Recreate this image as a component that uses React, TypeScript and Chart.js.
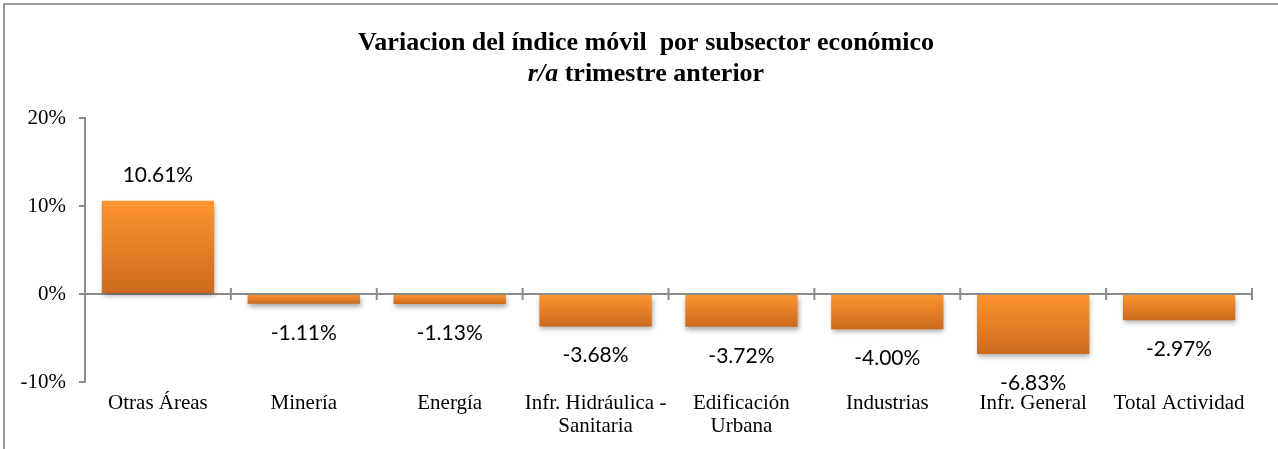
import React, { useEffect, useRef } from "react";
import { Chart, registerables } from "chart.js";

Chart.register(...registerables);

const categories: (string | string[])[] = [
  "Otras Áreas",
  "Minería",
  "Energía",
  ["Infr. Hidráulica -", "Sanitaria"],
  ["Edificación", "Urbana"],
  "Industrias",
  "Infr. General",
  "Total Actividad",
];
const values: number[] = [10.61, -1.11, -1.13, -3.68, -3.72, -4.0, -6.83, -2.97];
const yTicks: number[] = [-10, 0, 10, 20];
const titleLine1 = "Variacion del índice móvil  por subsector económico";
const titleItalic = "r/a";
const titleRest = " trimestre anterior";

const W = 1278;
const H = 449;
const AXIS_GRAY = "#8c8c8c";
const SERIF = "'Liberation Serif', 'Times New Roman', serif";

export default function App() {
  const ref = useRef<HTMLCanvasElement | null>(null);

  useEffect(() => {
    document.body.style.margin = "0";
    const canvas = ref.current;
    if (!canvas) return;

    const framePlugin = {
      id: "frameTitle",
      beforeDraw(chart: any) {
        const ctx = chart.ctx;
        ctx.save();
        ctx.fillStyle = "#ffffff";
        ctx.fillRect(0, 0, W, H);
        ctx.strokeStyle = "#9a9a9a";
        ctx.lineWidth = 2;
        ctx.beginPath();
        ctx.moveTo(4, H);
        ctx.lineTo(4, 4);
        ctx.lineTo(W, 4);
        ctx.stroke();
        // title
        const cx = 646;
        ctx.fillStyle = "#000";
        ctx.textBaseline = "middle";
        ctx.textAlign = "center";
        const fBold = "bold 26px " + SERIF;
        const fItal = "italic bold 26px " + SERIF;
        ctx.font = fBold;
        ctx.fillText(titleLine1, cx, 43);
        ctx.font = fItal;
        const w1 = ctx.measureText(titleItalic).width;
        ctx.font = fBold;
        const w2 = ctx.measureText(titleRest).width;
        const start = cx - (w1 + w2) / 2;
        ctx.textAlign = "left";
        ctx.font = fItal;
        ctx.fillText(titleItalic, start, 74);
        ctx.font = fBold;
        ctx.fillText(titleRest, start + w1, 74);
        ctx.restore();
      },
      beforeDatasetsDraw(chart: any) {
        const ctx = chart.ctx;
        const x = chart.scales.x;
        const y = chart.scales.y;
        const y0 = y.getPixelForValue(0);
        const step = x.getPixelForValue(1) - x.getPixelForValue(0);
        ctx.save();
        ctx.strokeStyle = AXIS_GRAY;
        ctx.lineWidth = 2;
        ctx.beginPath();
        ctx.moveTo(chart.chartArea.left, y0);
        ctx.lineTo(chart.chartArea.right, y0);
        const n = categories.length;
        for (let i = 0; i < n; i++) {
          const px = x.getPixelForValue(i) + step / 2;
          ctx.moveTo(px, y0 - 6);
          ctx.lineTo(px, y0 + 6);
        }
        ctx.stroke();
        ctx.restore();
      },
      beforeDatasetDraw(chart: any) {
        const ctx = chart.ctx;
        ctx.save();
        ctx.shadowColor = "rgba(0,0,0,0.35)";
        ctx.shadowBlur = 5;
        ctx.shadowOffsetX = 1;
        ctx.shadowOffsetY = 3;
      },
      afterDatasetDraw(chart: any) {
        chart.ctx.restore();
      },
      afterDatasetsDraw(chart: any) {
        const ctx = chart.ctx;
        const meta = chart.getDatasetMeta(0);
        ctx.save();
        ctx.fillStyle = "#000";
        ctx.font = "21px Lato, 'Open Sans', sans-serif";
        ctx.textAlign = "center";
        ctx.textBaseline = "middle";
        meta.data.forEach((bar: any, i: number) => {
          const v = values[i];
          const txt = v.toFixed(2) + "%";
          const yy = v >= 0 ? bar.y - 25 : bar.y + 29;
          ctx.fillText(txt, bar.x, yy);
        });
        ctx.restore();
      },
    };

    const chart = new Chart(canvas, {
      type: "bar",
      data: {
        labels: categories,
        datasets: [
          {
            data: values,
            backgroundColor: (c: any) => {
              const ch = c.chart;
              const ys = ch.scales?.y;
              if (!ys || c.dataIndex === undefined) return "#f08a2a";
              const v = values[c.dataIndex];
              const p1 = ys.getPixelForValue(v);
              const p0 = ys.getPixelForValue(0);
              const top = Math.min(p1, p0);
              const bot = Math.max(p1, p0);
              if (!isFinite(top) || bot - top < 0.5) return "#f08a2a";
              const g = ch.ctx.createLinearGradient(0, top, 0, bot);
              g.addColorStop(0, "#ff952f");
              g.addColorStop(1, "#cb6a1f");
              return g;
            },
            borderWidth: 0,
            categoryPercentage: 1,
            barPercentage: 0.77,
          },
        ],
      },
      options: {
        responsive: false,
        animation: false,
        layout: { padding: { top: 118, right: 26, left: 0, bottom: 0 } },
        plugins: {
          legend: { display: false },
          title: { display: false },
          tooltip: { enabled: false },
        },
        scales: {
          x: {
            grid: { display: false, drawTicks: false },
            border: { display: false },
            ticks: {
              padding: 10,
              color: "#000",
              font: { family: SERIF, size: 21, lineHeight: 1.1 },
              maxRotation: 0,
              autoSkip: false,
            },
            afterFit: (s: any) => {
              s.height = H - 382;
            },
          },
          y: {
            min: -10,
            max: 20,
            afterBuildTicks: (s: any) => {
              s.ticks = yTicks.map((v) => ({ value: v }));
            },
            grid: { drawOnChartArea: false, drawTicks: true, tickLength: 6, color: AXIS_GRAY, lineWidth: 2 },
            border: { display: true, color: AXIS_GRAY, width: 2 },
            ticks: {
              padding: 13,
              color: "#000",
              font: { family: SERIF, size: 21 },
              callback: (v: any) => v + "%",
            },
            afterFit: (s: any) => {
              s.width = 85;
            },
          },
        },
      },
      plugins: [framePlugin],
    });

    return () => chart.destroy();
  }, []);

  return (
    <div style={{ width: W, height: H }}>
      <canvas ref={ref} width={W} height={H} style={{ display: "block" }} />
    </div>
  );
}
